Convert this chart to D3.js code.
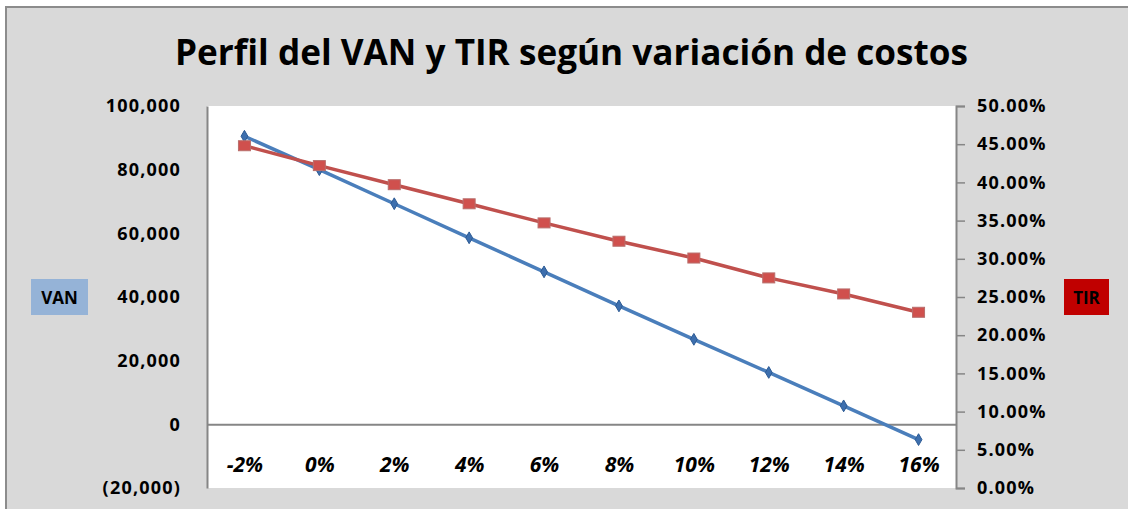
<!DOCTYPE html>
<html>
<head>
<meta charset="utf-8">
<script src="https://cdn.jsdelivr.net/npm/d3@7"></script>
<style>
  body { margin: 0; background: #fff; }
  text { font-family: "Open Sans", sans-serif; font-weight: bold; fill: #000; }
</style>
</head>
<body>
<div id="viz"></div>
<script>
// data
var categories = ["-2%", "0%", "2%", "4%", "6%", "8%", "10%", "12%", "14%", "16%"]
var van = [90500, 80000, 69300, 58600, 47900, 37200, 26700, 16300, 5800, -4800]
var tir = [0.448, 0.422, 0.397, 0.372, 0.347, 0.323, 0.301, 0.275, 0.254, 0.230]
var vanTicks = [-20000, 0, 20000, 40000, 60000, 80000, 100000]
var tirTicks = [0, 0.05, 0.10, 0.15, 0.20, 0.25, 0.30, 0.35, 0.40, 0.45, 0.50]

var width = 1128, height = 509
var plot = { left: 207, right: 956, top: 106, bottom: 488 }

var svg = d3.select("#viz")
  .append("svg")
  .attr("width", width)
  .attr("height", height)

// chart area background + border
svg.append("rect")
  .attr("x", 6).attr("y", 7)
  .attr("width", width + 10).attr("height", height + 10)
  .style("fill", "#d9d9d9")
  .style("stroke", "#8c8c8c")
  .style("stroke-width", 2)

// plot area
svg.append("rect")
  .attr("x", plot.left).attr("y", plot.top)
  .attr("width", plot.right - plot.left).attr("height", plot.bottom - plot.top)
  .style("fill", "#fff")

var x = d3.scalePoint()
  .domain(categories)
  .range([plot.left, plot.right])
  .padding(0.5)

var yVan = d3.scaleLinear().domain([-20000, 100000]).range([plot.bottom, plot.top])
var yTir = d3.scaleLinear().domain([0, 0.5]).range([plot.bottom, plot.top])

// title
svg.append("text")
  .attr("x", 175).attr("y", 65)
  .attr("textLength", 793)
  .attr("lengthAdjust", "spacingAndGlyphs")
  .style("font-size", "36px")
  .text("Perfil del VAN y TIR según variación de costos")

// left axis
var fmtVan = function (d) {
  var s = d3.format(",")(Math.abs(d))
  return d < 0 ? "(" + s + ")" : s
}
var leftAxis = svg.append("g")
  .attr("transform", "translate(" + plot.left + ",0)")
  .call(d3.axisLeft(yVan).tickValues(vanTicks).tickFormat(fmtVan).tickSize(0).tickPadding(26))
leftAxis.select(".domain").style("stroke", "#868686").style("stroke-width", 2)
leftAxis.selectAll("text").style("font-size", "18px").style("letter-spacing", "1.2px")

// right axis
var rightAxis = svg.append("g")
  .attr("transform", "translate(" + plot.right + ",0)")
  .call(d3.axisRight(yTir).tickValues(tirTicks).tickFormat(d3.format(".2%")).tickSize(9).tickSizeOuter(9).tickPadding(12))
rightAxis.select(".domain").style("stroke", "#868686").style("stroke-width", 2)
rightAxis.selectAll("line").style("stroke", "#868686").style("stroke-width", 1.5)
rightAxis.selectAll("text").style("font-size", "18px").style("letter-spacing", "1.2px")

// category axis on the zero line
var xAxis = svg.append("g")
  .attr("transform", "translate(0," + yVan(0) + ")")
  .call(d3.axisBottom(x).tickSize(0).tickSizeOuter(0).tickPadding(33))
xAxis.select(".domain").style("stroke", "#868686").style("stroke-width", 2)
xAxis.selectAll("text").style("font-size", "21px").style("font-style", "italic")

// series
var vanLine = d3.line()
  .x(function (d, i) { return x(categories[i]) })
  .y(function (d) { return yVan(d) })
var tirLine = d3.line()
  .x(function (d, i) { return x(categories[i]) })
  .y(function (d) { return yTir(d) })

svg.append("path")
  .datum(van)
  .attr("d", vanLine)
  .style("fill", "none")
  .style("stroke", "#4a7ebb")
  .style("stroke-width", 3.5)

svg.append("path")
  .datum(tir)
  .attr("d", tirLine)
  .style("fill", "none")
  .style("stroke", "#c0504d")
  .style("stroke-width", 3.5)

// markers
svg.selectAll(".vanMark")
  .data(van)
  .enter().append("path")
  .attr("class", "vanMark")
  .attr("transform", function (d, i) { return "translate(" + x(categories[i]) + "," + yVan(d) + ")" })
  .attr("d", d3.symbol().type(d3.symbolDiamond).size(40))
  .style("fill", "#3d6fae")
  .style("stroke", "#2c5a94")
  .style("stroke-width", 1)

svg.selectAll(".tirMark")
  .data(tir)
  .enter().append("rect")
  .attr("class", "tirMark")
  .attr("x", function (d, i) { return x(categories[i]) - 6 })
  .attr("y", function (d) { return yTir(d) - 5 })
  .attr("width", 12).attr("height", 10)
  .style("fill", "#d0504d")
  .style("stroke", "#b86e6c")
  .style("stroke-width", 1)

// axis name boxes
svg.append("rect")
  .attr("x", 31).attr("y", 279).attr("width", 57).attr("height", 36)
  .style("fill", "#95b3d7")
svg.append("text")
  .attr("x", 59.5).attr("y", 303.5)
  .attr("text-anchor", "middle")
  .style("font-size", "17px")
  .text("VAN")

svg.append("rect")
  .attr("x", 1064).attr("y", 279).attr("width", 45).attr("height", 36)
  .style("fill", "#c00000")
svg.append("text")
  .attr("x", 1086.5).attr("y", 303.5)
  .attr("text-anchor", "middle")
  .style("font-size", "17px")
  .text("TIR")
</script>
</body>
</html>
